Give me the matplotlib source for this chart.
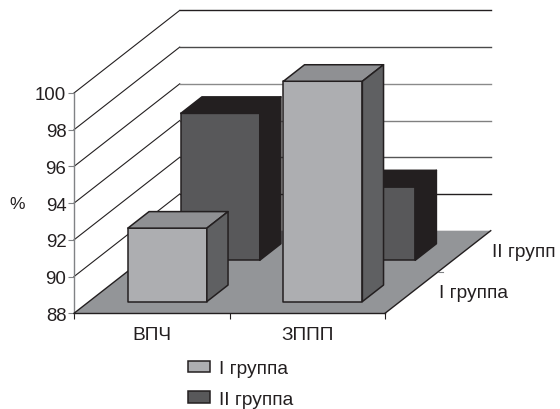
import matplotlib
matplotlib.use("Agg")
import matplotlib.pyplot as plt
from matplotlib.patches import Patch, Polygon

plt.rcParams['font.family'] = ['Liberation Sans', 'DejaVu Sans']

CATEGORIES = ["ВПЧ", "ЗППП"]
SERIES_NAMES = ["I группа", "II группа"]
# the original page cuts the back row label short
DEPTH_LABELS = ["I группа", "II групп"]
GROUP_1 = [92, 100]
GROUP_2 = [96, 92]
Y_TICKS = [88, 90, 92, 94, 96, 98, 100]

BASE = 88
INK = "#231f20"
FLOOR = "#939598"
WALL_LINE = "#808285"
# front, top, side colours for each series
STYLE_1 = ("#adaeb1", "#8f9093", "#5f6062")
STYLE_2 = ("#58585a", INK, INK)
# back wall lines are printed unevenly, darkest at the ends
GRID_COLORS = ["#231f20", "#4a4a4a", "#8a8a8a", "#808080", "#555555", "#231f20"]

# one unit of depth moves this far in axis units
DEPTH_X = 0.68
DEPTH_Y = 4.5
BAR_LEFT = 0.25
BAR_WIDTH = 0.508
BAR_DEPTH = 0.2
ROW_FRONT = [0.142, 0.642]


def proj(x, y, d):
    return (x + DEPTH_X * d, y + DEPTH_Y * d)


def poly(ax, pts, face, edge="none", lw=1.1, z=1):
    ax.add_patch(Polygon(pts, closed=True, facecolor=face, edgecolor=edge,
                         linewidth=lw, joinstyle="round", clip_on=False, zorder=z))


def draw_bar(ax, cat, value, row, style, z):
    x0 = cat + BAR_LEFT
    x1 = x0 + BAR_WIDTH
    d0 = ROW_FRONT[row]
    d1 = d0 + BAR_DEPTH
    front, top, side = style
    poly(ax, [proj(x0, BASE, d0), proj(x1, BASE, d0), proj(x1, value, d0), proj(x0, value, d0)],
         front, INK, z=z)
    poly(ax, [proj(x0, value, d0), proj(x1, value, d0), proj(x1, value, d1), proj(x0, value, d1)],
         top, INK, z=z)
    poly(ax, [proj(x1, BASE, d0), proj(x1, BASE, d1), proj(x1, value, d1), proj(x1, value, d0)],
         side, INK, z=z)


def main():
    fig = plt.figure(figsize=(5.6, 4.1), dpi=100)
    ax = fig.add_axes([74 / 560, 95.7 / 410, 311 / 560, 220.3 / 410])
    ax.set_xlim(0, 2)
    ax.set_ylim(BASE, 100)
    ax.patch.set_visible(False)

    for s in ["top", "right"]:
        ax.spines[s].set_visible(False)
    ax.spines["left"].set_color(WALL_LINE)
    ax.spines["left"].set_linewidth(1.0)
    ax.spines["bottom"].set_color(INK)
    ax.spines["bottom"].set_linewidth(1.0)
    ax.spines["bottom"].set_zorder(5)

    ax.set_yticks(Y_TICKS)
    ax.tick_params(axis="y", length=4, width=0.8, color=WALL_LINE, pad=1.5,
                   labelsize=13.4, labelcolor=INK)
    ax.set_xticks([0, 1, 2])
    ax.set_xticklabels([])
    ax.tick_params(axis="x", which="major", length=4, width=0.8, color=INK)
    ax.set_xticks([0.5, 1.5], minor=True)
    ax.set_xticklabels(CATEGORIES, minor=True, fontsize=13.8, color=INK)
    ax.tick_params(axis="x", which="minor", length=0, pad=9.5)
    ax.set_ylabel("%", rotation=0, fontsize=12.5, color=INK)
    ax.yaxis.set_label_coords(-0.182, 0.464)

    # walls
    for val, col in zip(Y_TICKS[1:], GRID_COLORS[::-1]):
        ax.plot(*zip(proj(0, val, 0), proj(0, val, 1)), color=INK, lw=0.8,
                clip_on=False, zorder=1)
        ax.plot(*zip(proj(0, val, 1), proj(2, val, 1)), color=col, lw=1.0,
                clip_on=False, zorder=1)

    # floor
    poly(ax, [proj(0, BASE, 0), proj(2, BASE, 0), proj(2, BASE, 1), proj(0, BASE, 1)],
         FLOOR, z=2)
    ax.plot(*zip(proj(0, BASE, 0), proj(0, BASE, 1)), color=INK, lw=1.0, clip_on=False, zorder=3)
    ax.plot(*zip(proj(2, BASE, 0), proj(2, BASE, 1)), color=INK, lw=1.0, clip_on=False, zorder=3)
    ax.plot(*zip(proj(2, BASE, 0.5), proj(2.03, BASE, 0.5)), color=WALL_LINE, lw=0.8,
            clip_on=False, zorder=3)

    # back row first, then front row
    for i in range(len(CATEGORIES)):
        draw_bar(ax, i, GROUP_2[i], 1, STYLE_2, 4)
    for i in range(len(CATEGORIES)):
        draw_bar(ax, i, GROUP_1[i], 0, STYLE_1, 6)

    # depth axis labels
    lx, ly = proj(2.176, BASE, 0.25)
    ax.text(lx, ly, DEPTH_LABELS[0], fontsize=13.8, color=INK, ha="left", va="center",
            clip_on=False)
    lx, ly = proj(2.176, BASE, 0.75)
    ax.text(lx, ly, DEPTH_LABELS[1], fontsize=13.8, color=INK, ha="left", va="center",
            clip_on=False)

    handles = [Patch(facecolor=STYLE_1[0], edgecolor=INK, linewidth=1.1),
               Patch(facecolor=STYLE_2[0], edgecolor=INK, linewidth=1.1)]
    fig.legend(handles, SERIES_NAMES, loc="upper left",
               bbox_to_anchor=(182 / 560, 1 - 355.5 / 410), frameon=False,
               fontsize=13.8, labelcolor=INK, labelspacing=0.7,
               handlelength=1.15, handleheight=0.57, handletextpad=0.5,
               borderpad=0.3, borderaxespad=0)

    plt.savefig("out.png", dpi=100)


if __name__ == "__main__":
    main()
